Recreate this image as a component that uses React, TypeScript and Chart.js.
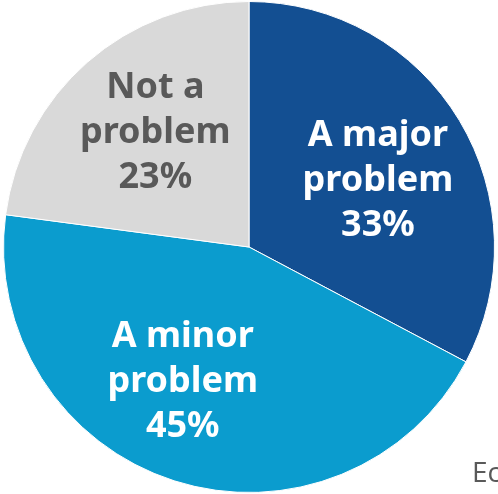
import React, { useEffect, useRef } from "react";
import { Chart, registerables } from "chart.js";

Chart.register(...registerables);

const categories = ["A major problem", "A minor problem", "Not a problem"];
const values = [32.75, 44.35, 22.9];
const percentLabels = ["33%", "45%", "23%"];
const labelLines = [
  ["A major", "problem"],
  ["A minor", "problem"],
  ["Not a", "problem"],
];
const sliceColors = ["#134F92", "#0B9CCE", "#D9D9D9"];
const labelColors = ["#FFFFFF", "#FFFFFF", "#595959"];
const labelAngleNudgeDeg = [3, 9, 2.5];
const labelRadiusFrac = [0.595, 0.6, 0.61];

const labelPlugin = {
  id: "sliceLabels",
  afterDatasetsDraw(chart: any) {
    const ctx = chart.ctx;
    const meta = chart.getDatasetMeta(0);
    ctx.save();
    ctx.font = "bold 36px 'Noto Sans'";
    ctx.textAlign = "center";
    ctx.textBaseline = "alphabetic";
    const lineH = 45;
    const capH = 26;
    meta.data.forEach((arc: any, i: number) => {
      const p = arc.getProps(["x", "y", "startAngle", "endAngle", "outerRadius"], true);
      const mid = (p.startAngle + p.endAngle) / 2 + (labelAngleNudgeDeg[i] * Math.PI) / 180;
      const r = p.outerRadius * labelRadiusFrac[i];
      const cx = p.x + Math.cos(mid) * r;
      const cy = p.y + Math.sin(mid) * r;
      const lines = [...labelLines[i], percentLabels[i]];
      const midBaseline = cy + capH / 2;
      ctx.fillStyle = labelColors[i];
      lines.forEach((t, k) => {
        ctx.fillText(t, cx, midBaseline + (k - 1) * lineH);
      });
    });
    ctx.restore();
  },
};

export default function App() {
  const ref = useRef<HTMLCanvasElement | null>(null);
  useEffect(() => {
    if (!ref.current) return;
    const chart = new Chart(ref.current, {
      type: "pie",
      data: {
        labels: categories,
        datasets: [
          {
            data: values,
            backgroundColor: sliceColors,
            borderColor: "#FFFFFF",
            borderWidth: 1,
          },
        ],
      },
      options: {
        responsive: false,
        animation: false,
        layout: { padding: { left: 3, right: 3, top: 1, bottom: 1 } },
        plugins: {
          legend: { display: false },
          tooltip: { enabled: false },
        },
      },
      plugins: [labelPlugin],
    });
    return () => chart.destroy();
  }, []);
  return (
    <div style={{ position: "absolute", left: 0, top: 0, width: 498, height: 494, background: "#FFFFFF", overflow: "hidden" }}>
      <canvas ref={ref} width={498} height={494} style={{ position: "absolute", left: 0, top: 0 }} />
      <div
        style={{
          position: "absolute",
          left: 472,
          top: 452,
          fontFamily: "'Open Sans', sans-serif",
          fontSize: 28,
          lineHeight: "38px",
          color: "#595959",
          whiteSpace: "nowrap",
        }}
      >
        Ec
      </div>
    </div>
  );
}
